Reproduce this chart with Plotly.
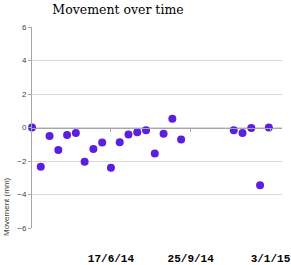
import plotly.graph_objects as go

dates = ["2014-03-10", "2014-03-21", "2014-04-01", "2014-04-12", "2014-04-23",
         "2014-05-04", "2014-05-15", "2014-05-26", "2014-06-06", "2014-06-17",
         "2014-06-28", "2014-07-09", "2014-07-20", "2014-07-31", "2014-08-11",
         "2014-08-22", "2014-09-02", "2014-09-13", "2014-11-18", "2014-11-29",
         "2014-12-10", "2014-12-21", "2015-01-01"]
movement = [0.0, -2.35, -0.5, -1.35, -0.45, -0.33, -2.05, -1.28, -0.9, -2.4,
            -0.88, -0.42, -0.28, -0.17, -1.55, -0.37, 0.52, -0.72, -0.17,
            -0.33, -0.03, -3.45, 0.0]
tick_dates = ["2014-06-17", "2014-09-25", "2015-01-03"]
tick_labels = ["17/6/14", "25/9/14", "3/1/15"]

fig = go.Figure()
fig.add_trace(go.Scatter(
    x=dates, y=movement, mode="markers",
    marker=dict(color="#5b1fe2", size=8),
    cliponaxis=False, showlegend=False))
# axis line at y=0 with tick marks
fig.add_trace(go.Scatter(x=dates[:1], y=[None], xaxis="x2", showlegend=False, hoverinfo="skip"))

xr = ["2014-03-10", "2015-01-17 12:00"]
fig.update_layout(
    width=291, height=265,
    margin=dict(l=32, r=9, t=27, b=37, autoexpand=False),
    paper_bgcolor="white", plot_bgcolor="white",
    title=dict(text="Movement over time", x=118/291, xanchor="center", y=1 - 10/265, yanchor="middle",
               font=dict(family="DejaVu Serif", size=12.5, color="#000000")),
    xaxis=dict(type="date", range=xr, tickvals=tick_dates, ticktext=tick_labels,
               showgrid=False, showline=False, zeroline=False, ticks="",
               ticklabelstandoff=22, automargin=False,
               tickfont=dict(family="Liberation Mono", size=11, color="#000000", weight="bold")),
    xaxis2=dict(type="date", range=xr, overlaying="x", anchor="free", position=0.5,
                tickvals=tick_dates, showticklabels=False, showgrid=False, automargin=False,
                showline=True, linecolor="#a6a6a6", linewidth=1,
                ticks="outside", ticklen=3, tickcolor="#a6a6a6", zeroline=False),
    yaxis=dict(range=[-6, 6], dtick=2, showgrid=True, gridcolor="#d9d9d9", gridwidth=1,
               zeroline=False, showline=True, linecolor="#a6a6a6", linewidth=1,
               ticks="outside", ticklen=3, tickcolor="#a6a6a6", automargin=False,
               tickfont=dict(family="Liberation Sans", size=8, color="#404040")),
    annotations=[dict(text="Movement (mm)", textangle=-90, x=(6 - 32) / 250, y=(228 - 207) / 201,
                      xref="paper", yref="paper", xanchor="center", yanchor="middle",
                      showarrow=False, font=dict(family="Liberation Sans", size=8, color="#404040"))],
)
fig.write_html("out.html")
